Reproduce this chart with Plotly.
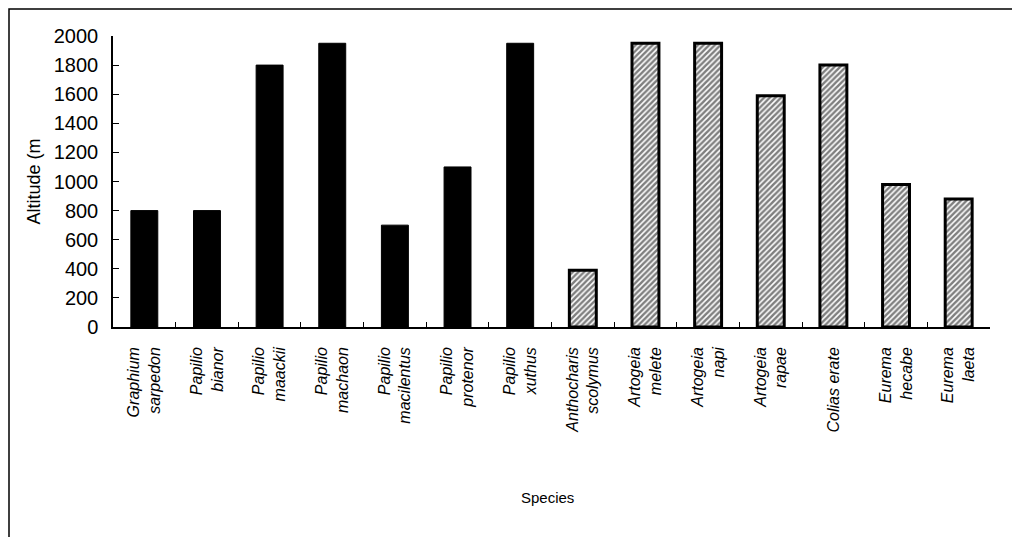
import plotly.graph_objects as go

# Data
papilionidae_species = [
    "Graphium<br>sarpedon", "Papilio<br>bianor", "Papilio<br>maackii",
    "Papilio<br>machaon", "Papilio<br>macilentus", "Papilio<br>protenor",
    "Papilio<br>xuthus",
]
papilionidae_altitude = [800, 800, 1800, 1950, 700, 1100, 1950]

pieridae_species = [
    "Anthocharis<br>scolymus", "Artogeia<br>melete", "Artogeia<br>napi",
    "Artogeia<br>rapae", "Colias erate", "Eurema<br>hecabe", "Eurema<br>laeta",
]
pieridae_altitude = [390, 1950, 1950, 1590, 1800, 980, 880]

y_ticks = [0, 200, 400, 600, 800, 1000, 1200, 1400, 1600, 1800, 2000]

all_species = papilionidae_species + pieridae_species

fig = go.Figure()
fig.add_trace(go.Bar(
    x=papilionidae_species, y=papilionidae_altitude,
    marker=dict(color="black", line=dict(color="black", width=1)),
    showlegend=False,
))
fig.add_trace(go.Bar(
    x=pieridae_species, y=pieridae_altitude,
    marker=dict(
        color="white",
        line=dict(color="black", width=3),
        pattern=dict(shape="/", fgcolor="black", bgcolor="white",
                     size=4, solidity=0.62),
    ),
    showlegend=False,
))

font_family = "Liberation Sans, Arial, sans-serif"

# page body adds an 8px offset, so the figure is sized/placed to compensate
L, T, R, B = 105, 28, 30, 210
W, H = 1012, 529
pw, ph = W - L - R, H - T - B

fig.update_layout(
    width=W, height=H,
    margin=dict(l=L, r=R, t=T, b=B, autoexpand=False),
    paper_bgcolor="white", plot_bgcolor="white",
    barmode="overlay", bargap=0.57,
    font=dict(family=font_family, color="black"),
    xaxis=dict(
        categoryorder="array", categoryarray=all_species,
        showline=True, linecolor="black", linewidth=1.5,
        ticks="inside", ticklen=5, tickcolor="black", tickson="boundaries",
        tickangle=-90, ticklabelstandoff=12,
        tickfont=dict(size=16, family=font_family, style="italic"),
        showgrid=False, zeroline=False,
    ),
    yaxis=dict(
        range=[0, 2000], tickvals=y_ticks,
        showline=True, linecolor="black", linewidth=1.5,
        ticks="inside", ticklen=6, tickcolor="black",
        ticklabelstandoff=9,
        tickfont=dict(size=20, family=font_family),
        title=dict(text="Altitude (m", font=dict(size=18), standoff=8),
        showgrid=False, zeroline=False,
    ),
    annotations=[dict(
        text="Species", xref="paper", yref="paper",
        x=(547 - 8 - L) / pw, y=-(497 - 8 - (T + ph)) / ph,
        xanchor="center", yanchor="middle", showarrow=False,
        font=dict(size=15, family=font_family),
    )],
    shapes=[dict(
        type="rect", xref="paper", yref="paper",
        x0=(1 - L) / pw, x1=(1007 - L) / pw,
        y0=-(B + 10) / ph, y1=1 + (T - 1) / ph,
        line=dict(color="black", width=1.5),
    )],
)

fig.write_html("out.html")
